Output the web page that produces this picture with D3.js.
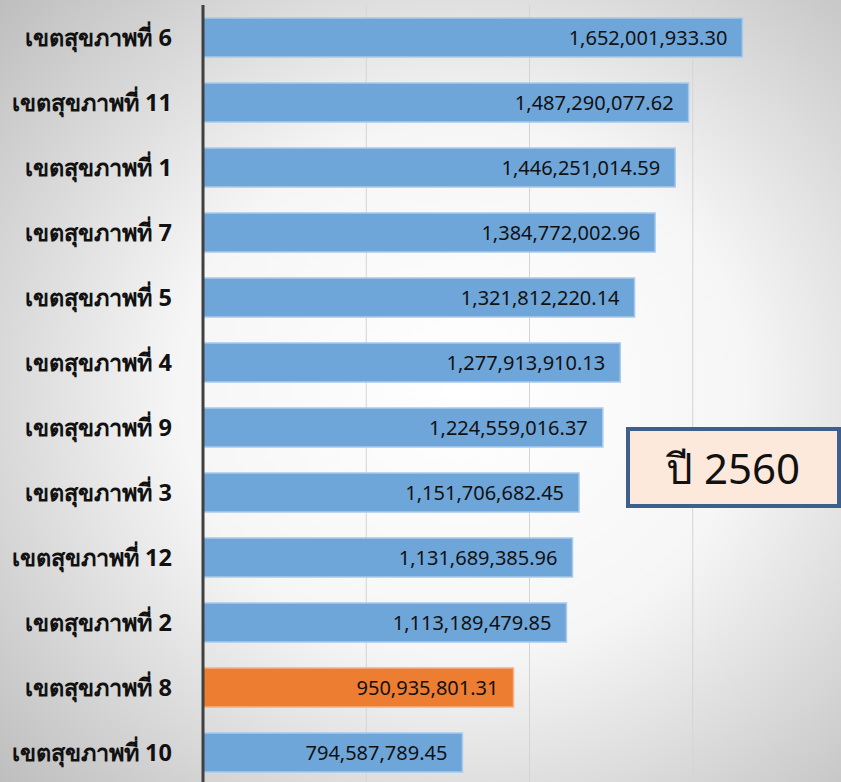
<!DOCTYPE html>
<html>
<head>
<meta charset="utf-8">
<script src="https://cdn.jsdelivr.net/npm/d3@7"></script>
<style>
  body { margin: 0; }
  svg { display: block; }
</style>
</head>
<body>
<div id="chart"></div>
<script>
var regions = ["เขตสุขภาพที่ 6", "เขตสุขภาพที่ 11", "เขตสุขภาพที่ 1", "เขตสุขภาพที่ 7",
  "เขตสุขภาพที่ 5", "เขตสุขภาพที่ 4", "เขตสุขภาพที่ 9", "เขตสุขภาพที่ 3",
  "เขตสุขภาพที่ 12", "เขตสุขภาพที่ 2", "เขตสุขภาพที่ 8", "เขตสุขภาพที่ 10"];
var amounts = [1652001933.30, 1487290077.62, 1446251014.59, 1384772002.96,
  1321812220.14, 1277913910.13, 1224559016.37, 1151706682.45,
  1131689385.96, 1113189479.85, 950935801.31, 794587789.45];
var highlight = "เขตสุขภาพที่ 8";
var gridTicks = [500000000, 1000000000, 1500000000];
var yearLabel = "ปี 2560";

var width = 841, height = 782;

var svg = d3.select("#chart").append("svg")
  .attr("width", width)
  .attr("height", height);

var defs = svg.append("defs");
var grad = defs.append("radialGradient")
  .attr("id", "bg")
  .attr("cx", "55%").attr("cy", "50%").attr("r", "75%");
grad.append("stop").attr("offset", "0%").attr("stop-color", "#ffffff");
grad.append("stop").attr("offset", "45%").attr("stop-color", "#f6f6f6");
grad.append("stop").attr("offset", "100%").attr("stop-color", "#bdbdbd");

svg.append("rect")
  .attr("width", width).attr("height", height)
  .attr("fill", "url(#bg)");

var x = d3.scaleLinear()
  .domain([0, 2000000000])
  .range([203, 856]);

var y = d3.scaleBand()
  .domain(regions)
  .range([5, 785])
  .paddingInner(0.4)
  .paddingOuter(0.2);

// gridlines
svg.append("g")
  .selectAll("line")
  .data(gridTicks)
  .join("line")
  .attr("x1", d => x(d)).attr("x2", d => x(d))
  .attr("y1", 5).attr("y2", height)
  .attr("stroke", "#d4d4d4")
  .attr("stroke-width", 1);

var fmt = d3.format(",.2f");

svg.append("g")
  .selectAll("rect")
  .data(regions)
  .join("rect")
  .attr("x", x(0))
  .attr("y", d => y(d))
  .attr("width", (d, i) => x(amounts[i]) - x(0))
  .attr("height", y.bandwidth())
  .attr("fill", d => d == highlight ? "#ed7d31" : "#6fa6d9")
  .attr("stroke", d => d == highlight ? "#f4b183" : "#a9c9ea")
  .attr("stroke-width", 1.5);

svg.append("g")
  .selectAll("text")
  .data(regions)
  .join("text")
  .attr("x", (d, i) => x(amounts[i]) - 15)
  .attr("y", d => y(d) + y.bandwidth() / 2)
  .attr("dy", "0.36em")
  .attr("text-anchor", "end")
  .style("font-family", "'Noto Sans', sans-serif")
  .style("font-size", "20px")
  .attr("fill", "#111")
  .text((d, i) => fmt(amounts[i]));

// category labels
svg.append("g")
  .selectAll("text")
  .data(regions)
  .join("text")
  .attr("x", 172)
  .attr("y", d => y(d) + y.bandwidth() / 2)
  .attr("dy", "0.36em")
  .attr("text-anchor", "end")
  .style("font-family", "'Noto Sans', 'DejaVu Sans', sans-serif")
  .style("font-size", "23.5px")
  .style("font-weight", "bold")
  .attr("fill", "#111")
  .text(d => d);

// axis line
svg.append("line")
  .attr("x1", x(0)).attr("x2", x(0))
  .attr("y1", 5).attr("y2", height)
  .attr("stroke", "#404040")
  .attr("stroke-width", 3);

// year box
var box = svg.append("g").attr("transform", "translate(628,429)");
box.append("rect")
  .attr("width", 211).attr("height", 77)
  .attr("fill", "#fde9dc")
  .attr("stroke", "#3c5f8c")
  .attr("stroke-width", 4);
box.append("text")
  .attr("x", 105).attr("y", 55)
  .attr("text-anchor", "middle")
  .style("font-family", "'Noto Sans', sans-serif")
  .style("font-size", "42px")
  .attr("fill", "#111")
  .text(yearLabel);
</script>
</body>
</html>
